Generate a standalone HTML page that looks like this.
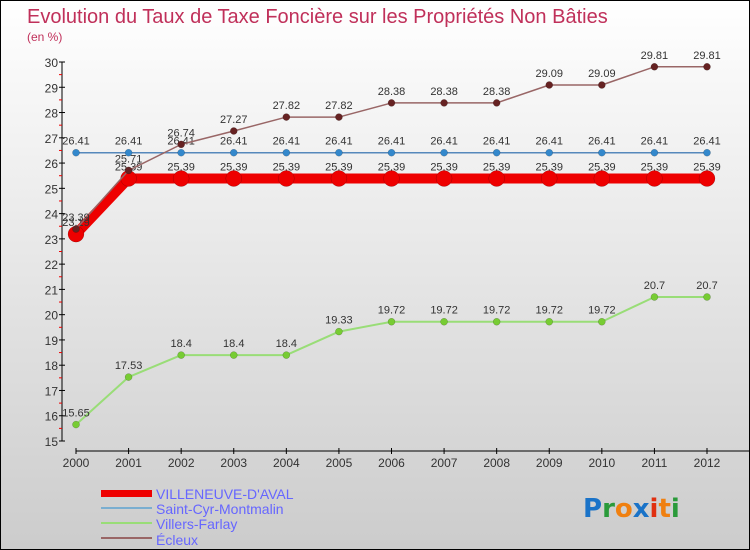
<!DOCTYPE html>
<html><head><meta charset="utf-8"><style>
body{margin:0}
#c{width:748px;height:548px;border:1px solid #000;background:linear-gradient(#fff,#ccc);position:relative;font-family:"Liberation Sans",sans-serif;overflow:hidden}
</style></head><body>
<div id="c">
<svg id="s" width="748" height="548" xmlns="http://www.w3.org/2000/svg">
<text x="26" y="22" font-size="20" fill="#c0305a">Evolution du Taux de Taxe Foncière sur les Propriétés Non Bâties</text>
<text x="26" y="40" font-size="12" fill="#c0305a">(en %)</text>
<g id="axes"></g><g id="series"></g>
<g>
<rect x="100" y="489" width="51" height="7" fill="#e00"/>
<text x="155" y="498" font-size="14" fill="#66f">VILLENEUVE-D'AVAL</text>
<line x1="100" y1="507" x2="151" y2="507" stroke="#7aaed0" stroke-width="2"/>
<text x="155" y="513" font-size="14" fill="#66f">Saint-Cyr-Montmalin</text>
<line x1="100" y1="522" x2="151" y2="522" stroke="#99dd77" stroke-width="2"/>
<text x="155" y="528" font-size="14" fill="#66f">Villers-Farlay</text>
<line x1="100" y1="537" x2="151" y2="537" stroke="#996666" stroke-width="2"/>
<text x="155" y="544" font-size="14" fill="#66f">Écleux</text>
</g>
<g font-size="26" font-family="'DejaVu Sans',sans-serif" font-weight="bold">
<text x="582" y="516"><tspan fill="#1a73c8">P</tspan><tspan fill="#2a9a3a">r</tspan><tspan fill="#f08010">o</tspan><tspan fill="#1a73c8">x</tspan><tspan fill="#e03010">i</tspan><tspan fill="#f08010">t</tspan><tspan fill="#2a9a3a">i</tspan></text>
</g>
</svg></div>
<script>
const years=[2000,2001,2002,2003,2004,2005,2006,2007,2008,2009,2010,2011,2012];
const yTicks=[15,16,17,18,19,20,21,22,23,24,25,26,27,28,29,30];
const villeneuve=[23.19,25.39,25.39,25.39,25.39,25.39,25.39,25.39,25.39,25.39,25.39,25.39,25.39];
const saintCyr=[26.41,26.41,26.41,26.41,26.41,26.41,26.41,26.41,26.41,26.41,26.41,26.41,26.41];
const villers=[15.65,17.53,18.4,18.4,18.4,19.33,19.72,19.72,19.72,19.72,19.72,20.7,20.7];
const ecleux=[23.39,25.71,26.74,27.27,27.82,27.82,28.38,28.38,28.38,29.09,29.09,29.81,29.81];
const NS="http://www.w3.org/2000/svg";
const X=i=>75+i*(706-75)/12;
const Y=v=>440-(v-15)*(440-61)/15;
function mk(t,a,p){const e=document.createElementNS(NS,t);for(const k in a)e.setAttribute(k,a[k]);p.appendChild(e);return e;}
const ax=document.getElementById('axes'),sg=document.getElementById('series');
let l=mk('line',{x1:61,y1:61,x2:61,y2:440,stroke:'#000'},ax);

l=mk('line',{x1:75,y1:450,x2:748,y2:450,stroke:'#000'},ax);

yTicks.forEach(v=>{const y=Y(v);
 mk('line',{x1:58,y1:y,x2:64,y2:y,stroke:'#000'},ax);
 if(v<30)mk('line',{x1:58,y1:Y(v+0.5),x2:61,y2:Y(v+0.5),stroke:'#e00'},ax);
 const t=mk('text',{x:57,y:y+5,'font-size':12,'text-anchor':'end',fill:'#333'},ax);t.textContent=v;
 });
years.forEach((yr,i)=>{const x=X(i);
 mk('line',{x1:x,y1:447,x2:x,y2:453,stroke:'#000'},ax);
 const t=mk('text',{x:x,y:466,'font-size':12,'text-anchor':'middle',fill:'#333'},ax);t.textContent=yr;
 });
function draw(d,name,col,dot,w,r,lab){
 const g=mk('g',{},sg);
 mk('polyline',{points:d.map((v,i)=>X(i)+','+Y(v)).join(' '),fill:'none',stroke:col,'stroke-width':w,'stroke-linejoin':'round'},g);
 d.forEach((v,i)=>{const c=mk('circle',{cx:X(i),cy:Y(v),r:r,fill:dot,stroke:'rgba(0,0,0,0.3)','stroke-width':0.5},g);
  
  const t=mk('text',{x:X(i),y:Y(v)-8,'font-size':11,'text-anchor':'middle',fill:'#333'},g);t.textContent=v;
  });
}
draw(villers,'villers-farlay','#99dd77','#77cc33',2,3.5);
draw(saintCyr,'saint-cyr','#5588bb','#3388cc',1.5,3.5);
draw(villeneuve,'villeneuve','#ee0000','#ee0000',10,8);
draw(ecleux,'ecleux','#996666','#662222',1.5,3.5);
</script>
</body></html>
